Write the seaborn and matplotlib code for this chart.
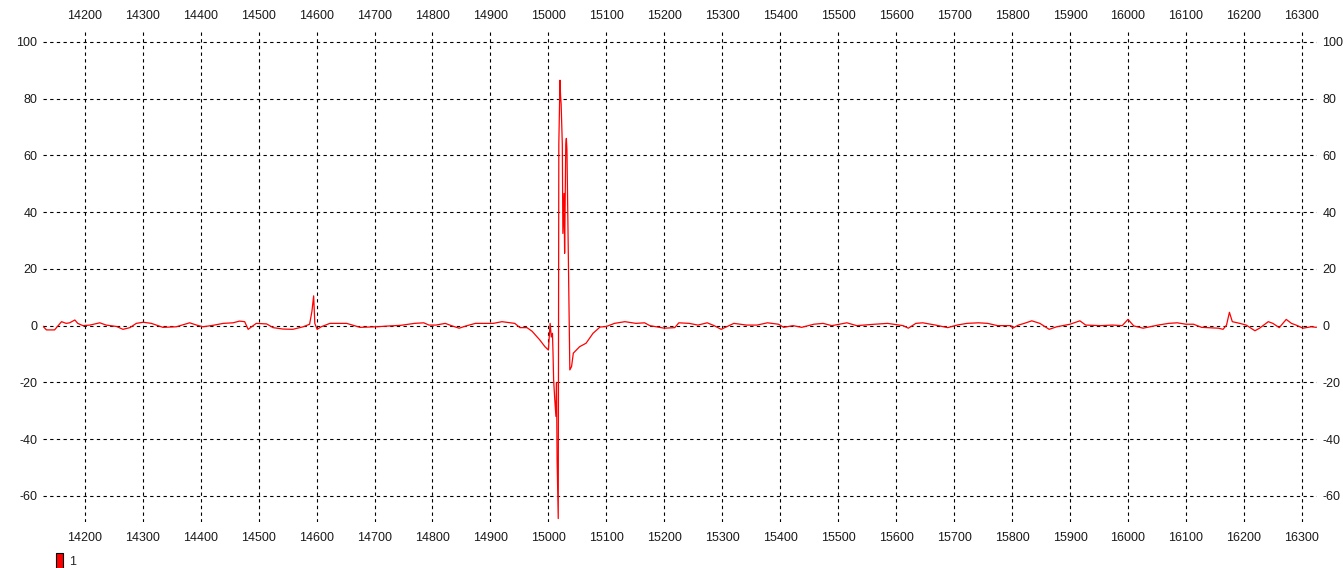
import numpy as np
import pandas as pd
import matplotlib
matplotlib.use('Agg')
import matplotlib.pyplot as plt
from matplotlib.patches import Patch
import seaborn as sns

# signal trace
xs = [14127, 14134, 14148, 14160, 14168, 14174, 14183, 14188, 14197, 14209,
      14226, 14237, 14255, 14266, 14278, 14289, 14301, 14315, 14335, 14358,
      14381, 14393, 14404, 14421, 14439, 14456, 14467, 14476, 14482, 14496,
      14514, 14525, 14542, 14559, 14577, 14588, 14592, 14595, 14597, 14601,
      14608, 14623, 14652, 14675, 14703, 14726, 14745, 14769, 14785, 14794,
      14806, 14822, 14834, 14846, 14858, 14874, 14892, 14905, 14920, 14942,
      14951, 14963, 14972, 14985, 14994, 15000, 15003, 15005, 15007, 15008,
      15009, 15011, 15013, 15014, 15015, 15017, 15018, 15020, 15021, 15022,
      15024, 15025, 15027, 15028, 15030, 15031, 15032, 15034, 15036, 15037,
      15040, 15043, 15054, 15065, 15077, 15089, 15100, 15114, 15132, 15151,
      15166, 15175, 15200, 15218, 15225, 15243, 15258, 15274, 15286, 15298,
      15320, 15342, 15360, 15378, 15397, 15406, 15422, 15437, 15458, 15474,
      15489, 15515, 15532, 15563, 15585, 15612, 15621, 15634, 15646, 15668,
      15689, 15705, 15722, 15742, 15758, 15775, 15798, 15801, 15811, 15821,
      15834, 15848, 15864, 15877, 15900, 15917, 15927, 15953, 15973, 15990,
      16000, 16010, 16026, 16052, 16070, 16085, 16100, 16113, 16127, 16156,
      16164, 16170, 16175, 16180, 16193, 16204, 16219, 16227, 16242, 16250,
      16261, 16273, 16282, 16290, 16302, 16316, 16325]
ys = [0, -1.5, -1.5, 1.4, 0.8, 1.0, 2.0, 0.8, 0, 0.2,
      1.0, 0.2, -0.3, -1.3, -0.7, 0.8, 1.2, 0.8, -0.6, -0.4,
      1.0, 0.2, -0.4, 0.1, 0.8, 1.0, 1.6, 1.4, -1.3, 0.8,
      0.6, -0.7, -1.2, -1.3, -0.4, 0.5, 5.0, 10.5, 0.8, -1.3,
      -0.4, 0.8, 0.8, -0.6, -0.4, -0.1, 0.1, 0.8, 1.0, 0.2,
      0.2, 0.8, -0.1, -0.9, -0.1, 0.8, 0.8, 0.8, 1.4, 0.8,
      -0.7, -0.7, -2.0, -5.0, -7.4, -8.6, 0.8, -4.0, -2.7, -9.7,
      -19, -26, -32, -20, -47, -68, 64, 86.5, 81, 78,
      64, 32.5, 46.6, 25.5, 64, 66, 62, 31, 0.8, -15.6,
      -14.4, -9.7, -7.4, -6.2, -2.7, -0.5, -0.3, 0.8, 1.4, 0.8,
      1.0, 0, -0.9, -0.7, 1.0, 0.8, 0.2, 1.0, 0, -1.3,
      0.8, 0.2, 0.2, 1.0, 0.5, -0.6, 0, -0.6, 0.5, 0.8,
      0, 1.0, 0, 0.5, 0.8, 0, -0.9, 0.8, 1.0, 0.2,
      -0.7, 0.2, 0.8, 1.0, 0.8, 0, 0, -0.9, 0.2, 0.8,
      1.7, 0.8, -1.3, -0.4, 0.5, 1.7, 0.2, 0, 0.2, 0,
      2.2, -0.1, -0.9, 0.2, 0.8, 1.0, 0.5, 0.5, -0.6, -0.9,
      -1.3, 0.2, 4.7, 1.4, 0.8, 0.2, -1.8, -0.9, 1.4, 0.8,
      -0.7, 2.2, 0.8, 0.2, -0.9, -0.4, -0.6]

x_ticks = list(range(14200, 16301, 100))
y_ticks = list(range(-60, 101, 20))
series_label = '1'

df = pd.DataFrame({'x': xs, 'y': ys})

sns.set_style('white')
plt.rcParams['font.family'] = ['Liberation Sans', 'DejaVu Sans']
plt.rcParams['axes.unicode_minus'] = False

fig = plt.figure(figsize=(13.43, 5.68), dpi=100)
ax = fig.add_axes([0.032, 0.081, 0.9486, 0.8627])

sns.lineplot(data=df, x='x', y='y', color='#ff0000', linewidth=0.9,
             estimator=None, ax=ax)

ax.set_xlim(14128, 16326)
ax.set_ylim(-69.2, 103.5)
ax.set_xticks(x_ticks)
ax.set_yticks(y_ticks)
ax.set_xlabel('')
ax.set_ylabel('')
for s in ax.spines.values():
    s.set_visible(False)

ax.grid(True, color='black', linestyle=(0, (3, 3)), linewidth=0.8)
ax.set_axisbelow(True)
ax.tick_params(length=0, labelsize=9, labelcolor='#1a1a1a',
               top=True, labeltop=True, right=True, labelright=True)
ax.tick_params(axis='x', pad=7)
ax.tick_params(axis='y', pad=4)

handle = Patch(facecolor='#ff0000', edgecolor='black', linewidth=0.8, label=series_label)
fig.legend(handles=[handle], loc='lower left', bbox_to_anchor=(0.037, -0.012),
           frameon=False, handlelength=0.55, handleheight=1.5, handletextpad=0.5,
           borderpad=0, fontsize=9)

fig.savefig('out.png', dpi=100)
